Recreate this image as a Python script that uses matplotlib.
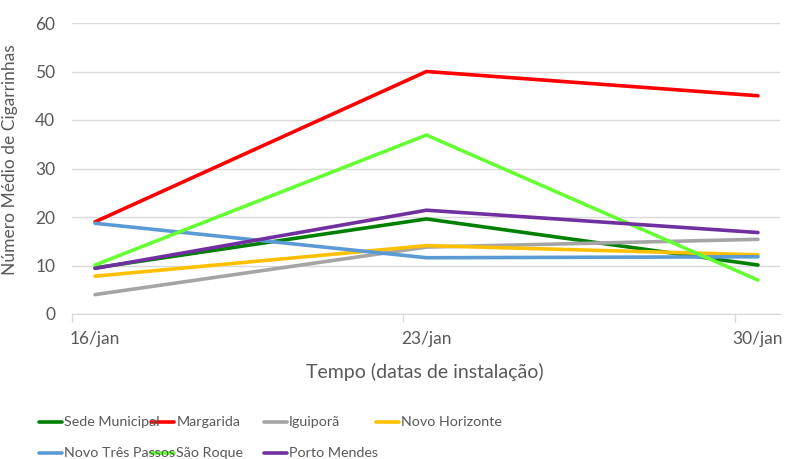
import matplotlib.pyplot as plt
from matplotlib.lines import Line2D

plt.rcParams['font.family'] = ['Lato', 'DejaVu Sans']

# data
dates = ['16/jan', '23/jan', '30/jan']
sede_municipal = [9.5, 19.6, 10.1]
margarida = [19.0, 50.0, 45.0]
iguipora = [4.0, 13.8, 15.4]
novo_horizonte = [7.8, 14.1, 12.2]
novo_tres_passos = [18.7, 11.6, 11.8]
sao_roque = [10.1, 36.9, 7.0]
porto_mendes = [9.4, 21.4, 16.8]

series = [
    ('Sede Municipal', sede_municipal, '#008000'),
    ('Margarida', margarida, '#FF0000'),
    ('Iguiporã', iguipora, '#A5A5A5'),
    ('Novo Horizonte', novo_horizonte, '#FFC000'),
    ('Novo Três Passos', novo_tres_passos, '#5B9BD5'),
    ('São Roque', sao_roque, '#66FF33'),
    ('Porto Mendes', porto_mendes, '#7030A0'),
]

W, H = 785, 459
fig = plt.figure(figsize=(W / 100, H / 100), dpi=100)
ax = fig.add_axes([72 / W, 1 - 314 / H, (780 - 72) / W, (314 - 23) / H])

x = list(range(len(dates)))
for name, vals, col in series:
    ax.plot(x, vals, color=col, lw=2.6, solid_capstyle='round', solid_joinstyle='round')

txt = '#595959'
ax.set_ylim(0, 60)
ax.set_yticks(range(0, 61, 10))
ax.set_xlim(-0.0695, 2.0665)
ax.set_xticks(x)
ax.set_xticklabels(dates)
ax.set_xticks([-0.0695, 0.9305, 1.9305], minor=True)
ax.tick_params(axis='both', which='major', length=0, labelsize=12.5, labelcolor=txt, pad=12)
ax.tick_params(axis='x', which='minor', length=6, color='#D9D9D9', width=1)
ax.grid(axis='y', color='#D9D9D9', lw=1)
ax.set_axisbelow(True)
for s in ['top', 'right', 'left']:
    ax.spines[s].set_visible(False)
ax.spines['bottom'].set_color('#D9D9D9')

ax.set_ylabel('Número Médio de Cigarrinhas', fontsize=12.5, color=txt, labelpad=10)
ax.yaxis.set_label_coords(-(72 - 18) / (780 - 72), 0.53)
ax.set_xlabel('Tempo (datas de instalação)', fontsize=14, color=txt)
ax.xaxis.set_label_coords((425 - 72) / (780 - 72), -(372 - 314) / (314 - 23))
ax.xaxis.label.set_va('center')

# legend laid out like Excel's equal-width columns
for i, (name, vals, col) in enumerate(series):
    c, r = i % 4, i // 4
    x0 = 39 + 112.3 * c
    y0 = 421.5 + 31.5 * r
    fig.add_artist(Line2D([x0 / W, (x0 + 23) / W], [1 - y0 / H, 1 - y0 / H],
                          color=col, lw=2.6, solid_capstyle='round'))
    fig.text((x0 + 25) / W, 1 - y0 / H, name, fontsize=10.3, color=txt,
             va='center', ha='left')

fig.savefig('out.png', dpi=100)
